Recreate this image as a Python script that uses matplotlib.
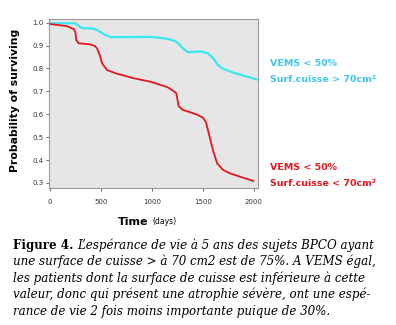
import matplotlib
matplotlib.use("Agg")
import matplotlib.pyplot as plt
import numpy as np


# survival curves (days, probability)
cyan_days = [0, 250, 313, 412, 460, 544, 593, 800, 988, 1150, 1219, 1260, 1302, 1351,
             1420, 1483, 1549, 1600, 1647, 1700, 1746, 1810, 1878, 1950, 2026]
cyan_prob = [0.997, 0.997, 0.976, 0.975, 0.968, 0.946, 0.937, 0.937, 0.938, 0.93, 0.921,
             0.91, 0.888, 0.871, 0.873, 0.874, 0.866, 0.845, 0.815, 0.798, 0.79, 0.78,
             0.771, 0.762, 0.752]

red_days = [0, 165, 237, 250, 257, 280, 330, 395, 440, 461, 490, 511, 560, 650, 824,
            988, 1153, 1236, 1250, 1262, 1302, 1380, 1450, 1500, 1530, 1565, 1600, 1640,
            1697, 1760, 1812, 1900, 1993]
red_prob = [0.994, 0.985, 0.971, 0.955, 0.924, 0.91, 0.908, 0.905, 0.898, 0.888, 0.855,
            0.822, 0.793, 0.778, 0.757, 0.742, 0.718, 0.694, 0.665, 0.635, 0.619, 0.608,
            0.597, 0.585, 0.565, 0.502, 0.44, 0.385, 0.357, 0.343, 0.335, 0.322, 0.309]

x_ticks = [0, 500, 1000, 1500, 2000]
y_ticks = [0.3, 0.4, 0.5, 0.6, 0.7, 0.8, 0.9, 1.0]

caption_lines = [
    "L\u2019esp\u00e9rance de vie \u00e0 5 ans des sujets BPCO ayant",
    "une surface de cuisse > \u00e0 70 cm2 est de 75%. A VEMS \u00e9gal,",
    "les patients dont la surface de cuisse est inf\u00e9rieure \u00e0 cette",
    "valeur, donc qui pr\u00e9sent une atrophie s\u00e9v\u00e8re, ont une esp\u00e9-",
    "rance de vie 2 fois moins importante puique de 30%.",
]

CYAN = "#36e8f2"
RED = "#e5161c"

fig = plt.figure(figsize=(3.96, 3.25), dpi=100)
ax = fig.add_axes([49 / 396, 1 - 188 / 325, 209 / 396, 169 / 325])
ax.set_facecolor("#e6e6e6")

ax.plot(cyan_days, cyan_prob, color=CYAN, lw=1.6)
ax.plot(red_days, red_prob, color=RED, lw=1.3)

ax.set_xlim(-10, 2040)
ax.set_ylim(0.278, 1.016)
ax.set_xticks(x_ticks)
ax.set_yticks(y_ticks)
ax.set_yticklabels([f"{v:.1f}" for v in y_ticks])
ax.tick_params(labelsize=5, length=2, width=0.5, colors="#333333", pad=2)
ax.tick_params(axis="x", pad=6)
for sp in ax.spines.values():
    sp.set_color("#999999")
    sp.set_linewidth(0.8)

fig.text(15 / 396, 1 - 100 / 325, "Probability of surviving", rotation=90,
         ha="center", va="center", fontsize=7.8, fontweight="bold",
         fontfamily="DejaVu Sans")
fig.text(148 / 396, 1 - 222 / 325, "Time", ha="right", va="center",
         fontsize=8, fontweight="bold")
fig.text(152 / 396, 1 - 222 / 325, "(days)", ha="left", va="center", fontsize=5.5)

lab_kw = dict(ha="left", va="center", fontsize=6.8, fontweight="bold")
fig.text(270 / 396, 1 - 63 / 325, "VEMS < 50%", color="#3fc6ec", **lab_kw)
fig.text(270 / 396, 1 - 79 / 325, "Surf.cuisse > 70cm\u00b2", color="#3fc6ec", **lab_kw)
fig.text(270 / 396, 1 - 168 / 325, "VEMS < 50%", color=RED, **lab_kw)
fig.text(270 / 396, 1 - 184 / 325, "Surf.cuisse < 70cm\u00b2", color=RED, **lab_kw)

# caption: bold "Figure 4." then italic text
cap_kw = dict(fontsize=8.6, fontfamily="DejaVu Serif", va="center", ha="left")
y0 = 245
step = 16.5
fig.canvas.draw()
r = fig.canvas.get_renderer()
head = fig.text(13 / 396, 1 - y0 / 325, "Figure 4. ", fontweight="bold", **cap_kw)
bb = head.get_window_extent(renderer=r)
fig.text(bb.x1 / fig.bbox.width, 1 - y0 / 325, caption_lines[0], style="italic", **cap_kw)
for i, line in enumerate(caption_lines[1:], start=1):
    fig.text(13 / 396, 1 - (y0 + i * step) / 325, line, style="italic", **cap_kw)

fig.savefig("out.png", dpi=100)
